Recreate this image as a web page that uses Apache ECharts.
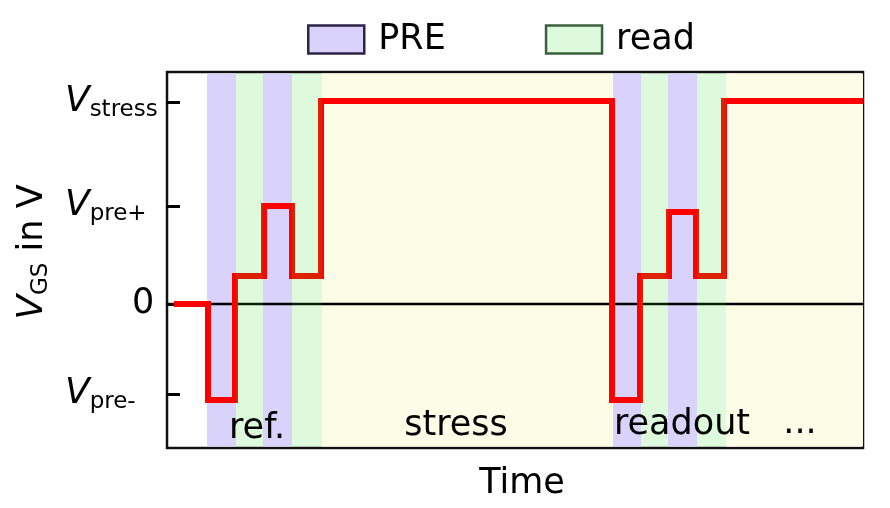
<!DOCTYPE html>
<html>
<head>
<meta charset="utf-8">
<script src="https://cdn.jsdelivr.net/npm/echarts@6/dist/echarts.min.js"></script>
<style>html,body{margin:0;padding:0;background:#fff}#c{width:890px;height:508px}</style>
</head>
<body>
<div id="c"></div>
<script>
// ---- data (time in arbitrary units, voltage in arbitrary units) ----
const timeRange = [0, 696];
const voltRange = [-144, 232];
const yTickValues = [-90, 0, 98, 202];
const yTickLabels = ['pre-', '0', 'pre+', 'stress'];
const vgsTime = [7, 41, 41, 68, 68, 97, 97, 125, 125, 154, 154, 445, 445, 473, 473, 502, 502, 529, 529, 557, 557, 696];
const vgsVolt = [0, 0, -96, -96, 28, 28, 98, 98, 28, 28, 203, 203, -96, -96, 28, 28, 92, 92, 28, 28, 203, 203];
const preBands = [[40, 69], [96, 125], [446, 474], [501, 530]];
const readBands = [[69, 96], [125, 155], [474, 501], [530, 559]];
const stressBands = [[155, 446], [559, 696]];
const phaseLabels = ['ref.', 'stress', 'readout', '...'];
const phaseTime = [90, 289, 515, 633];
const phaseVolt = [-125, -122, -121, -120];

const FONT = 'DejaVu Sans';
const TXT = '#000';
const chart = echarts.init(document.getElementById('c'));

function bandRenderer(params, api) {
  const p0 = api.coord([api.value(0), voltRange[1]]);
  const p1 = api.coord([api.value(1), voltRange[0]]);
  const inset = 1.5;
  return {
    type: 'rect',
    shape: { x: p0[0], y: p0[1] + inset, width: p1[0] - p0[0], height: p1[1] - p0[1] - 2 * inset },
    style: { fill: api.visual('color') }
  };
}

chart.setOption({
  animation: false,
  textStyle: { fontFamily: FONT },
  legend: {
    left: 302, top: 17,
    icon: 'rect',
    itemWidth: 56, itemHeight: 28, itemGap: 99,
    textStyle: { fontSize: 35, fontFamily: FONT, color: TXT, padding: [0, 0, 0, 9] },
    data: [
      { name: 'PRE', itemStyle: { borderColor: '#2d2545', borderWidth: 2.5 } },
      { name: 'read', itemStyle: { borderColor: '#3d5f3d', borderWidth: 2.5 } }
    ]
  },
  grid: { left: 167, right: 27, top: 72, bottom: 60, show: true, borderColor: '#111', borderWidth: 2.5, backgroundColor: 'transparent' },
  xAxis: {
    type: 'value', min: timeRange[0], max: timeRange[1],
    name: 'Time', nameLocation: 'middle', nameGap: 18,
    nameTextStyle: { fontSize: 35, fontFamily: FONT, color: TXT, padding: [0, 0, 0, 14] },
    axisLine: { show: false }, axisTick: { show: false }, axisLabel: { show: false }, splitLine: { show: false }
  },
  yAxis: {
    type: 'value', min: voltRange[0], max: voltRange[1],
    name: '{v|V}{s|GS}{t| in V}', nameLocation: 'middle', nameGap: 114,
    nameTextStyle: {
      fontFamily: FONT, color: TXT, padding: [0, 0, 0, 16],
      rich: {
        v: { fontSize: 36, fontStyle: 'italic', fontFamily: FONT, color: TXT, lineHeight: 40 },
        s: { fontSize: 23, fontFamily: FONT, color: TXT, lineHeight: 14, verticalAlign: 'bottom' },
        t: { fontSize: 35, fontFamily: FONT, color: TXT, lineHeight: 40 }
      }
    },
    axisLine: { show: false },
    splitLine: { show: false },
    axisTick: { show: true, inside: true, length: 13, customValues: yTickValues, lineStyle: { color: '#000', width: 3 } },
    axisLabel: {
      show: true, customValues: yTickValues, align: 'left', margin: 102,
      formatter: function (v) {
        const i = yTickValues.indexOf(v);
        const t = yTickLabels[i];
        if (t === '0') return '{z|0}';
        return '{v|V}{s|' + t + '}';
      },
      rich: {
        v: { fontSize: 36, fontStyle: 'italic', fontFamily: FONT, color: TXT, lineHeight: 40 },
        s: { fontSize: 23, fontFamily: FONT, color: TXT, lineHeight: 14, verticalAlign: 'bottom' },
        z: { fontSize: 35, fontFamily: FONT, color: TXT, lineHeight: 40, padding: [0, 0, 0, 67] }
      }
    }
  },
  series: [
    {
      name: 'stressBg', type: 'custom', z: 1, silent: true,
      itemStyle: { color: '#fbfde7' },
      renderItem: bandRenderer,
      data: stressBands
    },
    {
      name: 'PRE', type: 'custom', z: 1, silent: true,
      itemStyle: { color: '#d9d2fb' },
      renderItem: bandRenderer,
      data: preBands
    },
    {
      name: 'zero', type: 'line', z: 2, silent: true, showSymbol: false,
      lineStyle: { color: '#000', width: 2.5 },
      data: [[timeRange[0], 0], [timeRange[1], 0]]
    },
    {
      name: 'VGS', type: 'line', z: 3, silent: true, showSymbol: false,
      lineStyle: { color: '#ff0000', width: 6, join: 'miter', cap: 'butt' },
      data: vgsTime.map((t, i) => [t, vgsVolt[i]])
    },
    {
      name: 'read', type: 'custom', z: 4, silent: true,
      itemStyle: { color: 'rgba(30,220,30,0.15)' },
      renderItem: bandRenderer,
      data: readBands
    },
    {
      name: 'phases', type: 'scatter', z: 5, silent: true, symbolSize: 0,
      itemStyle: { opacity: 1 },
      label: { show: true, position: 'inside', formatter: '{b}', fontSize: 35, fontFamily: FONT, color: TXT, opacity: 1 },
      data: phaseLabels.map((n, i) => ({ name: n, value: [phaseTime[i], phaseVolt[i]] }))
    }
  ]
});
</script>
</body>
</html>
